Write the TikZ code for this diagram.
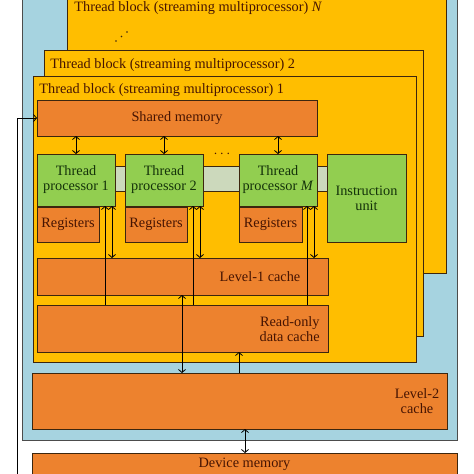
\documentclass[tikz,border=0pt]{standalone}
\usepackage{fontspec}
\setmainfont{Liberation Serif}
\usepackage{tikz}
\usetikzlibrary{arrows,arrows.meta,positioning}
\definecolor{gpublue}{RGB}{166,211,224}
\definecolor{gpugold}{RGB}{255,190,0}
\definecolor{gpuorange}{RGB}{237,130,46}
\definecolor{gpugreen}{RGB}{146,206,80}
\definecolor{gpubar}{RGB}{204,217,188}
\definecolor{gpuline}{RGB}{60,38,14}
\definecolor{gputext}{RGB}{70,20,2}
\definecolor{gpugtext}{RGB}{20,50,10}
\tikzset{
	box/.style = {draw=gpuline, line width=0.9pt, inner sep=0pt, outer sep=0pt,
		anchor=north west, font=\fontsize{14.3}{15}\selectfont},
	mem/.style = {box, fill=gpuorange, text=gputext},
	proc/.style = {box, fill=gpugreen, text=gpugtext, align=center},
	blk/.style = {box, fill=gpugold},
	ttl/.style = {inner sep=0pt, anchor=base west, text=gputext,
		font=\fontsize{14.3}{15}\selectfont},
	lbl/.style = {inner sep=0pt, text=gputext, font=\fontsize{14.3}{15}\selectfont}
}

\begin{document}
\begin{tikzpicture}[x=1pt,y=-1pt,>={Straight Barb[length=3pt,width=7pt]},line width=0.8pt]
\useasboundingbox (0,0) rectangle (474,474);
% device and blocks
\node [box, fill=gpublue, draw=black!70, minimum width=435pt, minimum height=447pt] (dev) at (22,-7) {};
\node [blk, minimum width=379pt, minimum height=282pt] (bn) at (67,-9) {};
\node [ttl] (tn) at (74,11) {Thread block (streaming multiprocessor) \textit{N}};
\foreach \p in {(116,41),(121.5,36.5),(127,32)}
	\fill[gpuline] \p circle (0.9);
\node [blk, minimum width=379pt, minimum height=286pt] (b2) at (44,50) {};
\node [ttl] (t2) at (50,68) {Thread block (streaming multiprocessor) 2};
\node [blk, minimum width=383pt, minimum height=286pt] (b1) at (33,76) {};
\node [ttl] (t1) at (39,93) {Thread block (streaming multiprocessor) 1};
% inside block 1
\node [mem, minimum width=280pt, minimum height=36pt] (sm) at (37,100) {Shared memory};
\draw [draw=gpuline, fill=gpubar] (115,166) rectangle (327,191);
\node [proc, minimum width=78pt, minimum height=52pt] (tp1) at (37,154) {Thread\\processor 1};
\node [proc, minimum width=78pt, minimum height=52pt] (tp2) at (125,154) {Thread\\processor 2};
\node [proc, minimum width=78pt, minimum height=52pt] (tpm) at (239,154) {Thread\\processor \textit{M}};
\node [proc, minimum width=79pt, minimum height=88pt] (iu) at (327,154) {Instruction\\unit};
\node [lbl] (dots) at (222,154) {$\cdots$};
\node [mem, minimum width=62pt, minimum height=35pt] (r1) at (37,207) {Registers};
\node [mem, minimum width=62pt, minimum height=35pt] (r2) at (125,207) {Registers};
\node [mem, minimum width=63pt, minimum height=35pt] (rm) at (239,207) {Registers};
\node [mem, minimum width=291pt, minimum height=37pt] (l1) at (37,258) {};
\node [lbl] (l1t) at (260,277) {Level-1 cache};
\node [mem, minimum width=291pt, minimum height=47pt] (ro) at (37,305) {};
\node [lbl, align=right, anchor=east] (rot) at (320,329) {Read-only\\data cache};
% outside the blocks
\node [mem, minimum width=415pt, minimum height=56pt] (l2) at (32,373) {};
\node [lbl, align=center] (l2t) at (417,401) {Level-2\\cache};
\node [mem, minimum width=425pt, minimum height=23pt] (dm) at (32,453) {Device memory};
% connections
\foreach \t in {tp1,tp2,tpm}{
	\draw [<->] (\t.north) -- (\t.north |- sm.south);
	\coordinate (\t a) at ([xshift=-10pt]\t.south east);
	\coordinate (\t b) at ([xshift=-3pt]\t.south east);
	\draw [->] (\t a |- ro.north) -- (\t a);
	\draw [<->] (\t b) -- (\t b |- l1.north);
}
\coordinate (c1) at (182,0);
\coordinate (c2) at (239,0);
\coordinate (c3) at (245,0);
\draw [<->] (c1 |- l1.south) -- (c1 |- l2.north);
\draw [->] (c2 |- l2.north) -- (c2 |- ro.south);
\draw [<->] (c3 |- l2.south) -- (c3 |- dm.north);
\coordinate (feed) at (17,480);
\draw [->] (feed) |- (sm.west);
\end{tikzpicture}
\end{document}
